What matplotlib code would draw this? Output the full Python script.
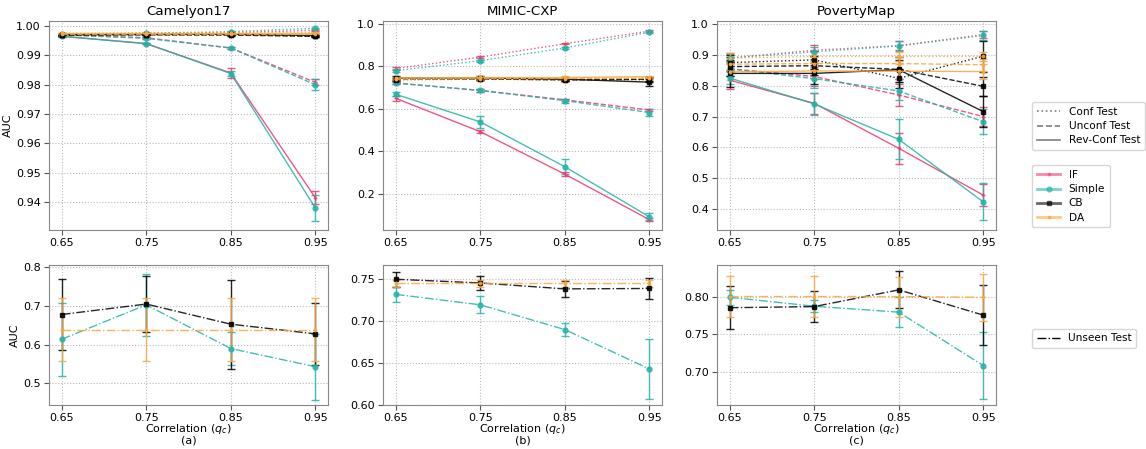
import numpy as np
import matplotlib.pyplot as plt
from matplotlib.lines import Line2D

# %% data -- x positions are the correlation levels
q_c = [0.65, 0.75, 0.85, 0.95]
datasets = ["Camelyon17", "MIMIC-CXP", "PovertyMap"]
panel_tags = ["(a)", "(b)", "(c)"]
methods = ["IF", "Simple", "CB", "DA"]
tests = ["Conf Test", "Unconf Test", "Rev-Conf Test"]

# rows: conf / unconf / rev-conf
cam_if_mean = [[0.9972, 0.9975, 0.9978, 0.9985],
               [0.9970, 0.9960, 0.9925, 0.9808],
               [0.9965, 0.9940, 0.9840, 0.9415]]
cam_if_err = [[0.0002, 0.0002, 0.0003, 0.0003],
              [0.0002, 0.0003, 0.0004, 0.0010],
              [0.0002, 0.0003, 0.0016, 0.0022]]
cam_simple_mean = [[0.9972, 0.9975, 0.9981, 0.9992],
                   [0.9970, 0.9958, 0.9925, 0.9800],
                   [0.9965, 0.9940, 0.9838, 0.9380]]
cam_simple_err = [[0.0002, 0.0002, 0.0002, 0.0002],
                  [0.0002, 0.0003, 0.0003, 0.0018],
                  [0.0002, 0.0003, 0.0008, 0.0045]]
cam_cb_mean = [[0.9970, 0.9971, 0.9970, 0.9966],
               [0.9969, 0.9970, 0.9969, 0.9965],
               [0.9970, 0.9971, 0.9972, 0.9967]]
cam_cb_err = [[0.0002, 0.0002, 0.0002, 0.0002],
              [0.0002, 0.0002, 0.0002, 0.0002],
              [0.0002, 0.0002, 0.0002, 0.0002]]
cam_da_mean = [[0.9975, 0.9976, 0.9976, 0.9977],
               [0.9974, 0.9974, 0.9974, 0.9974],
               [0.9975, 0.9975, 0.9975, 0.9975]]
cam_da_err = [[0.0002, 0.0002, 0.0002, 0.0002],
              [0.0002, 0.0002, 0.0002, 0.0002],
              [0.0002, 0.0002, 0.0002, 0.0002]]

mim_if_mean = [[0.790, 0.844, 0.907, 0.966],
               [0.722, 0.687, 0.643, 0.595],
               [0.650, 0.493, 0.293, 0.079]]
mim_if_err = [[0.006, 0.004, 0.003, 0.004],
              [0.005, 0.006, 0.006, 0.006],
              [0.012, 0.006, 0.010, 0.006]]
mim_simple_mean = [[0.780, 0.827, 0.887, 0.961],
                   [0.722, 0.687, 0.639, 0.583],
                   [0.669, 0.539, 0.328, 0.092]]
mim_simple_err = [[0.008, 0.005, 0.004, 0.005],
                  [0.006, 0.008, 0.010, 0.015],
                  [0.010, 0.028, 0.035, 0.016]]
mim_cb_mean = [[0.738, 0.740, 0.738, 0.738],
               [0.740, 0.741, 0.737, 0.740],
               [0.745, 0.746, 0.740, 0.726]]
mim_cb_err = [[0.006, 0.006, 0.006, 0.010],
              [0.006, 0.006, 0.006, 0.010],
              [0.008, 0.010, 0.008, 0.020]]
mim_da_mean = [[0.742, 0.744, 0.744, 0.745],
               [0.740, 0.742, 0.743, 0.744],
               [0.746, 0.748, 0.748, 0.752]]
mim_da_err = [[0.004, 0.004, 0.004, 0.004],
              [0.004, 0.004, 0.004, 0.004],
              [0.005, 0.005, 0.005, 0.005]]

pov_if_mean = [[0.890, 0.915, 0.930, 0.966],
               [0.855, 0.830, 0.770, 0.700],
               [0.818, 0.743, 0.597, 0.445]]
pov_if_err = [[0.015, 0.018, 0.015, 0.012],
              [0.025, 0.030, 0.035, 0.030],
              [0.030, 0.035, 0.050, 0.035]]
pov_simple_mean = [[0.890, 0.910, 0.929, 0.963],
                   [0.855, 0.823, 0.783, 0.683],
                   [0.825, 0.741, 0.626, 0.423]]
pov_simple_err = [[0.012, 0.015, 0.015, 0.015],
                  [0.025, 0.030, 0.030, 0.040],
                  [0.020, 0.035, 0.065, 0.060]]
pov_cb_mean = [[0.875, 0.884, 0.824, 0.896],
               [0.862, 0.865, 0.853, 0.798],
               [0.840, 0.840, 0.852, 0.716]]
pov_cb_err = [[0.025, 0.030, 0.030, 0.050],
              [0.030, 0.030, 0.040, 0.030],
              [0.045, 0.035, 0.030, 0.050]]
pov_da_mean = [[0.890, 0.895, 0.895, 0.895],
               [0.870, 0.872, 0.872, 0.868],
               [0.845, 0.848, 0.847, 0.846]]
pov_da_err = [[0.015, 0.015, 0.015, 0.015],
              [0.020, 0.020, 0.020, 0.020],
              [0.025, 0.025, 0.025, 0.025]]

# unseen test (bottom row): Simple, CB, DA
cam_unseen_simple = [0.614, 0.703, 0.590, 0.543]
cam_unseen_simple_err = [0.095, 0.080, 0.042, 0.085]
cam_unseen_cb = [0.678, 0.705, 0.653, 0.628]
cam_unseen_cb_err = [0.093, 0.072, 0.115, 0.080]
cam_unseen_da = [0.639, 0.639, 0.639, 0.639]
cam_unseen_da_err = [0.082, 0.082, 0.082, 0.082]

mim_unseen_simple = [0.732, 0.7195, 0.690, 0.643]
mim_unseen_simple_err = [0.009, 0.010, 0.0075, 0.036]
mim_unseen_cb = [0.750, 0.7456, 0.7385, 0.739]
mim_unseen_cb_err = [0.009, 0.008, 0.010, 0.012]
mim_unseen_da = [0.745, 0.745, 0.745, 0.745]
mim_unseen_da_err = [0.004, 0.004, 0.004, 0.004]

pov_unseen_simple = [0.800, 0.788, 0.780, 0.708]
pov_unseen_simple_err = [0.010, 0.008, 0.020, 0.045]
pov_unseen_cb = [0.786, 0.7875, 0.810, 0.776]
pov_unseen_cb_err = [0.029, 0.021, 0.025, 0.040]
pov_unseen_da = [0.801, 0.801, 0.801, 0.800]
pov_unseen_da_err = [0.028, 0.028, 0.027, 0.032]

# %% styles
COLORS = {"IF": "#ee3a6c", "Simple": "#25b3a9", "CB": "black", "DA": "#f7a740"}
MARKERS = {"IF": "+", "Simple": "o", "CB": "s", "DA": "."}
LSTYLES = [":", "--", "-"]
FS_TICK = 8
FS_LABEL = 8
FS_TITLE = 9.6
FS_LEG = 7.6

top_data = [
    {"IF": (cam_if_mean, cam_if_err), "Simple": (cam_simple_mean, cam_simple_err),
     "CB": (cam_cb_mean, cam_cb_err), "DA": (cam_da_mean, cam_da_err)},
    {"IF": (mim_if_mean, mim_if_err), "Simple": (mim_simple_mean, mim_simple_err),
     "CB": (mim_cb_mean, mim_cb_err), "DA": (mim_da_mean, mim_da_err)},
    {"IF": (pov_if_mean, pov_if_err), "Simple": (pov_simple_mean, pov_simple_err),
     "CB": (pov_cb_mean, pov_cb_err), "DA": (pov_da_mean, pov_da_err)},
]
bottom_data = [
    {"Simple": (cam_unseen_simple, cam_unseen_simple_err), "CB": (cam_unseen_cb, cam_unseen_cb_err),
     "DA": (cam_unseen_da, cam_unseen_da_err)},
    {"Simple": (mim_unseen_simple, mim_unseen_simple_err), "CB": (mim_unseen_cb, mim_unseen_cb_err),
     "DA": (mim_unseen_da, mim_unseen_da_err)},
    {"Simple": (pov_unseen_simple, pov_unseen_simple_err), "CB": (pov_unseen_cb, pov_unseen_cb_err),
     "DA": (pov_unseen_da, pov_unseen_da_err)},
]
top_ticks = [[0.94, 0.95, 0.96, 0.97, 0.98, 0.99, 1.00],
             [0.2, 0.4, 0.6, 0.8, 1.0],
             [0.4, 0.5, 0.6, 0.7, 0.8, 0.9, 1.0]]
top_fmt = ["{:.2f}", "{:.1f}", "{:.1f}"]
bottom_ticks = [[0.5, 0.6, 0.7, 0.8], [0.60, 0.65, 0.70, 0.75], [0.70, 0.75, 0.80]]
bottom_fmt = ["{:.1f}", "{:.2f}", "{:.2f}"]
top_ylim = [(0.9305, 1.0017), (0.03, 1.014), (0.332, 1.01)]
bottom_ylim = [(0.444, 0.806), (0.60, 0.767), (0.655, 0.8435)]

W, H = 1146, 449
fig = plt.figure(figsize=(W / 100, H / 100), dpi=100)
lefts = [49, 383, 717]
aw = 279


def style_axes(ax):
    for s in ax.spines.values():
        s.set_color("#888888")
    ax.grid(True, linestyle=":", color="#bbbbbb", linewidth=0.8)
    ax.tick_params(labelsize=FS_TICK, color="#555555", length=3.5, pad=2.5)
    ax.set_xticks(q_c)
    ax.set_xticklabels(["{:.2f}".format(v) for v in q_c])
    ax.set_xlim(0.635, 0.965)


for i, name in enumerate(datasets):
    ax = fig.add_axes([lefts[i] / W, 1 - 230 / H, aw / W, 209 / H])
    for m in methods:
        means, errs = top_data[i][m]
        for t in range(3):
            ax.errorbar(q_c, means[t], yerr=errs[t], color=COLORS[m], ls=LSTYLES[t],
                        marker=MARKERS[m], ms=3.5, lw=1.0, alpha=0.85, capsize=3,
                        elinewidth=1.0, ecolor=COLORS[m])
    style_axes(ax)
    ax.set_ylim(*top_ylim[i])
    ax.set_yticks(top_ticks[i])
    ax.set_yticklabels([top_fmt[i].format(v) for v in top_ticks[i]])
    ax.set_title(name, fontsize=FS_TITLE, pad=4)
    if i == 0:
        ax.set_ylabel("AUC", fontsize=FS_LABEL, labelpad=2)

    axb = fig.add_axes([lefts[i] / W, 1 - 405 / H, aw / W, 140 / H])
    for m in ["Simple", "CB", "DA"]:
        vals, errs = bottom_data[i][m]
        axb.errorbar(q_c, vals, yerr=errs, color=COLORS[m], ls="-.", marker=MARKERS[m],
                     ms=3.5, lw=1.0, alpha=0.85, capsize=3, elinewidth=1.0)
    style_axes(axb)
    axb.set_ylim(*bottom_ylim[i])
    axb.set_yticks(bottom_ticks[i])
    axb.set_yticklabels([bottom_fmt[i].format(v) for v in bottom_ticks[i]])
    axb.set_xlabel("Correlation ($q_c$)", fontsize=FS_LABEL, labelpad=-1)
    axb.text(0.5, -0.22, panel_tags[i], transform=axb.transAxes, ha="center", va="top",
             fontsize=FS_LABEL)
    if i == 0:
        axb.set_ylabel("AUC", fontsize=FS_LABEL, labelpad=2)

# legends
test_handles = [Line2D([], [], color="grey", ls=ls, lw=1.2) for ls in LSTYLES]
leg1 = fig.legend(test_handles, tests, loc="upper left", bbox_to_anchor=(1027 / W, 1 - 97 / H),
                  fontsize=FS_LEG, frameon=True, handlelength=2.2, borderpad=0.45, labelspacing=0.4)
method_handles = [Line2D([], [], color=COLORS[m], marker=MARKERS[m], ms=3.5, lw=2, alpha=0.6,
                         markerfacecolor=COLORS[m], markeredgecolor=COLORS[m]) for m in methods]
leg2 = fig.legend(method_handles, methods, loc="upper left", bbox_to_anchor=(1027 / W, 1 - 160 / H),
                  fontsize=FS_LEG, frameon=True, handlelength=2.2, borderpad=0.45, labelspacing=0.4)
leg3 = fig.legend([Line2D([], [], color="black", ls="-.", lw=1.0)], ["Unseen Test"], loc="upper left",
                  bbox_to_anchor=(1027 / W, 1 - 324 / H), fontsize=FS_LEG, frameon=True,
                  handlelength=2.2, borderpad=0.4)

fig.savefig("out.png", dpi=100)
